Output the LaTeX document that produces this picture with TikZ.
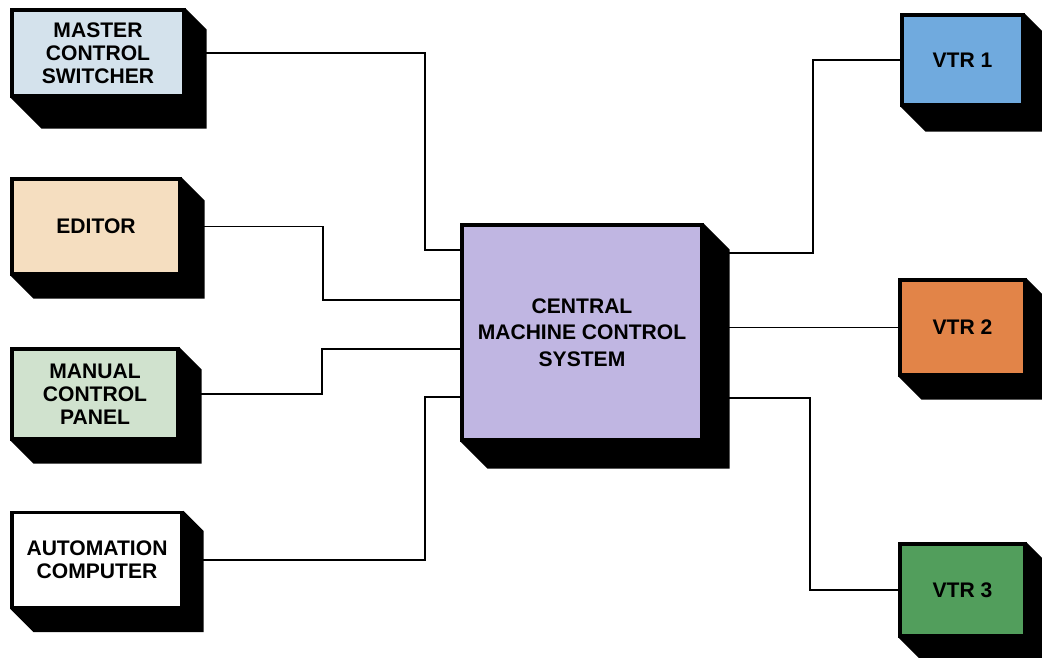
\documentclass[tikz,border=0pt]{standalone}
\usepackage{fontspec}
\setmainfont{Liberation Sans}
\usetikzlibrary{backgrounds}
\definecolor{mcscol}{RGB}{212,226,236}
\definecolor{edcol}{RGB}{245,222,192}
\definecolor{mancol}{RGB}{208,226,206}
\definecolor{cmccol}{RGB}{192,182,226}
\definecolor{vtrone}{RGB}{112,170,222}
\definecolor{vtrtwo}{RGB}{226,132,72}
\definecolor{vtrthree}{RGB}{82,158,92}
\tikzset{
  face/.style={draw=black,line width=1.8pt,inner sep=0pt,align=center,
    font=\fontsize{12}{13.2}\selectfont\bfseries},
  wire/.style={line width=1.1pt}
}
\newcommand\boxdepth[3]{\fill[black] (#1.north east) -- ([shift={(#2,#2)}]#1.north east)
  -- ([shift={(#2,#3)}]#1.south east) -- ([shift={(#3,#3)}]#1.south west) -- (#1.south west) -- cycle;}
\begin{document}
\begin{tikzpicture}[x=0.02cm,y=-0.02cm]
\useasboundingbox (0,0) rectangle (1042,658);
\node[face,fill=mcscol,minimum width=172*0.02cm,minimum height=86*0.02cm] (mcs) at (98,53) {MASTER\\CONTROL\\SWITCHER};
\node[face,fill=edcol,minimum width=168*0.02cm,minimum height=95*0.02cm] (editor) at (96,226.5) {EDITOR};
\node[face,fill=mancol,minimum width=166*0.02cm,minimum height=90*0.02cm] (manual) at (95,394) {MANUAL\\CONTROL\\PANEL};
\node[face,fill=white,minimum width=170*0.02cm,minimum height=95*0.02cm] (auto) at (97,560) {AUTOMATION\\COMPUTER};
\node[face,fill=cmccol,minimum width=240*0.02cm,minimum height=215*0.02cm,
  font=\fontsize{12}{15}\selectfont\bfseries] (cmc) at (582,332.5) {CENTRAL\\MACHINE CONTROL\\SYSTEM};
\node[face,fill=vtrone,minimum width=121*0.02cm,minimum height=90*0.02cm] (vtr1) at (962.5,60) {VTR 1};
\node[face,fill=vtrtwo,minimum width=125*0.02cm,minimum height=95*0.02cm] (vtr2) at (962.5,327.5) {VTR 2};
\node[face,fill=vtrthree,minimum width=125*0.02cm,minimum height=92*0.02cm] (vtr3) at (962.5,590) {VTR 3};
\begin{scope}[on background layer]
\boxdepth{mcs}{21}{31}
\boxdepth{editor}{23}{23}
\boxdepth{manual}{22}{23}
\boxdepth{auto}{20}{23}
\boxdepth{cmc}{26}{27}
\boxdepth{vtr1}{18}{25}
\boxdepth{vtr2}{17}{23}
\boxdepth{vtr3}{17}{23}
\end{scope}
\draw[wire] (mcs.east) -| (425,250) -- (cmc.west |- 425,250);
\draw[wire] (editor.east) -| (323,300) -- (cmc.west |- 323,300);
\draw[wire] (manual.east) -| (322,349) -- (cmc.west |- 322,349);
\draw[wire] (auto.east) -| (425,397) -- (cmc.west |- 425,397);
\draw[wire] (cmc.east |- 813,253) -| (813,60) -- (vtr1.west);
\draw[wire] (cmc.east |- 0,327.5) -- (vtr2.west);
\draw[wire] (cmc.east |- 810,398) -| (810,590) -- (vtr3.west);
\end{tikzpicture}
\end{document}
